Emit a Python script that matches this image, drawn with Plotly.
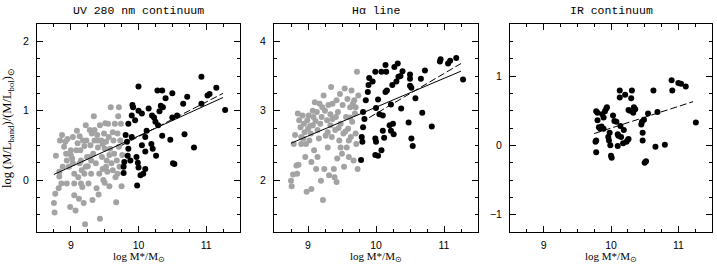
import plotly.graph_objects as go

# ---------------- data ----------------
# Panel 1: UV 280 nm continuum
uv_gray_x = [8.75, 8.76, 8.77, 8.78, 8.83, 8.82, 8.84, 8.87, 8.86, 8.90, 8.92, 8.93, 8.95, 8.94, 8.97,
             8.99, 9.00, 9.02, 9.03, 9.05, 9.05, 9.05, 9.07, 9.09, 9.10, 9.11, 9.12, 9.13, 9.14, 9.15,
             9.16, 9.17, 9.19, 9.20, 9.21, 9.22, 9.23, 9.24, 9.25, 9.26, 9.28, 9.29, 9.30, 9.31, 9.32,
             9.33, 9.34, 9.35, 9.37, 9.38, 9.39, 9.40, 9.41, 9.43, 9.43, 9.45, 9.46, 9.47, 9.48, 9.49,
             9.50, 9.50, 9.51, 9.52, 9.53, 9.54, 9.55, 9.56, 9.57, 9.58, 9.59, 9.60, 9.62, 9.63, 9.64,
             9.65, 9.66, 9.67, 9.68, 9.69, 9.70, 9.71, 9.71, 9.73, 9.74, 9.75, 9.76, 9.72, 9.62, 8.88,
             8.83, 9.03, 9.08, 9.18, 9.22, 9.28, 9.35, 9.42, 9.52, 9.57, 9.47, 9.13, 9.20, 9.30, 9.40,
             9.69, 9.15, 9.00, 8.94]
uv_gray_y = [-0.33, -0.47, -0.20, 0.35, 0.05, -0.12, 0.57, 0.65, -0.05, 0.48, 0.55, 0.38, 0.59, -0.05, 0.19,
             -0.39, 0.36, 0.31, 0.24, 0.09, -0.05, -0.22, -0.44, 0.71, 0.53, 0.04, -0.27, 0.63, 0.43, 0.28,
             0.14, -0.10, -0.33, 0.49, -0.64, 0.79, 0.57, 0.33, 0.20, -0.05, 0.72, 0.50, 0.09, 0.67, -0.29,
             0.38, 0.92, 0.57, 0.24, -0.12, 0.65, 0.47, -0.21, 0.79, -0.56, 0.57, 0.33, 0.16, 0.00, 0.67,
             0.45, -0.04, 0.82, 0.55, 0.28, 0.12, 0.81, 0.62, -0.09, 0.45, 1.05, 0.24, 0.69, 0.57, 0.38,
             0.81, 0.04, -0.32, 0.28, 0.67, 0.92, 0.48, 1.05, 0.57, 0.81, -0.09, 0.36, 0.19, 0.14, 0.19,
             0.12, 0.62, 0.43, 0.57, 0.19, 0.33, 0.72, 0.09, 0.19, 0.36, 0.52, 0.24, 0.09, 0.28, 0.57,
             0.09, -0.05, 0.43, 0.28]
uv_black_x = [10.00, 10.35, 10.28, 10.15, 9.91, 9.92, 10.00, 10.05, 9.90, 9.85, 9.95, 10.20, 10.23, 10.25,
              10.31, 10.33, 10.36, 10.40, 10.50, 10.50, 10.57, 10.66, 10.72, 10.93, 10.93, 11.02, 11.05,
              11.15, 11.28, 9.81, 9.83, 9.85, 9.84, 9.79, 9.78, 9.78, 9.88, 9.90, 9.97, 9.99, 10.00, 10.03,
              9.98, 10.07, 10.10, 10.05, 10.10, 10.12, 10.10, 10.19, 10.21, 10.26, 10.29, 10.35, 10.47,
              10.51, 10.53, 10.68, 10.82]
uv_black_y = [1.35, 1.29, 1.29, 1.03, 1.08, 1.05, 1.00, 0.96, 0.93, 0.81, 0.86, 0.93, 0.90, 0.84,
              0.99, 1.07, 1.05, 1.18, 1.25, 0.90, 0.93, 1.10, 1.20, 1.10, 1.49, 1.22, 1.24,
              1.33, 1.01, 0.65, 0.55, 0.45, 0.35, 0.26, 0.19, 0.10, 0.28, 0.62, 0.33, 0.25, 0.18, 0.07,
              -0.08, 0.09, 0.16, 0.50, 0.41, 0.71, 0.62, 0.52, 0.45, 0.35, 0.79, 0.64, 0.58,
              0.24, 0.23, 0.66, 0.47]
uv_fit_all_x = [8.75, 11.25]
uv_fit_all_y = [0.08, 1.19]
uv_fit_black_x = [9.75, 11.25]
uv_fit_black_y = [0.50, 1.25]

# Panel 2: H-alpha line
ha_gray_x = [8.75, 8.76, 8.78, 8.84, 8.83, 8.86, 8.81, 8.85, 8.87, 8.89, 8.90, 8.92, 8.94, 8.95, 8.96,
             8.98, 8.99, 9.00, 9.01, 9.02, 9.04, 9.05, 9.05, 9.07, 9.08, 9.09, 9.10, 9.12, 9.13, 9.14,
             9.16, 9.17, 9.18, 9.19, 9.20, 9.22, 9.23, 9.24, 9.25, 9.26, 9.28, 9.29, 9.30, 9.31, 9.33,
             9.34, 9.35, 9.36, 9.38, 9.39, 9.40, 9.42, 9.42, 9.43, 9.44, 9.46, 9.47, 9.48, 9.50, 9.51,
             9.52, 9.53, 9.54, 9.56, 9.57, 9.58, 9.59, 9.60, 9.62, 9.63, 9.64, 9.65, 9.67, 9.68, 9.69,
             9.70, 9.71, 9.72, 9.73, 9.74, 9.70, 8.97, 9.07, 9.36, 9.48, 9.14, 9.29, 9.41, 9.60, 8.90,
             8.79, 9.03, 9.21, 9.33, 9.55, 9.66, 8.93, 9.11, 9.45, 9.62]
ha_gray_y = [1.99, 1.91, 2.08, 2.09, 2.21, 2.22, 2.65, 2.96, 2.86, 2.76, 2.62, 2.93, 2.81, 2.69, 2.33,
             1.83, 2.86, 2.74, 2.93, 2.57, 2.67, 2.26, 1.87, 2.79, 2.91, 2.43, 3.12, 2.16, 2.98, 2.72,
             2.60, 3.10, 2.81, 1.99, 2.91, 1.71, 3.22, 2.16, 3.00, 2.64, 2.86, 2.69, 3.08, 2.07, 2.79,
             3.34, 2.62, 2.88, 2.16, 2.04, 2.72, 1.97, 3.15, 2.31, 2.98, 2.57, 3.24, 2.81, 2.38, 3.08,
             2.67, 2.19, 3.32, 2.91, 2.47, 3.17, 2.74, 2.33, 3.05, 2.62, 3.29, 2.84, 2.28, 3.15, 2.96,
             2.67, 2.52, 3.56, 2.16, 3.22, 3.05, 2.52, 3.00, 3.10, 2.47, 2.33, 2.47, 2.91, 2.57, 2.52,
             2.52, 2.78, 3.05, 2.95, 2.70, 3.10, 2.60, 2.85, 2.75, 2.90]
ha_black_x = [9.78, 9.80, 9.79, 9.81, 9.83, 9.81, 9.85, 9.88, 9.89, 9.90, 9.95, 9.99, 10.03, 10.00,
              9.99, 10.00, 9.99, 10.03, 10.08, 10.05, 10.10, 10.10, 10.12, 10.08, 10.14, 10.14, 10.16,
              10.15, 10.22, 10.24, 10.25, 10.20, 10.22, 10.26, 10.27, 10.32, 10.30, 10.33, 10.36, 10.39,
              10.37, 10.48, 10.50, 10.50, 10.50, 10.52, 10.52, 10.54, 10.58, 10.72, 10.68, 10.66, 10.82,
              10.94, 10.95, 11.06, 11.09, 11.18, 11.28]
ha_black_y = [2.29, 2.55, 2.62, 2.76, 2.88, 2.98, 3.15, 3.27, 3.37, 3.47, 3.42, 3.56, 3.16, 3.04,
              2.60, 2.55, 2.36, 2.35, 2.43, 2.95, 2.93, 2.71, 2.61, 3.56, 3.66, 3.27, 3.29,
              3.56, 3.09, 3.37, 2.81, 2.79, 2.71, 2.66, 3.63, 3.68, 3.42, 3.49, 3.50, 3.57,
              3.03, 2.83, 3.52, 3.46, 3.36, 3.33, 2.60, 2.49, 3.18, 3.58, 2.97, 3.46, 2.77,
              3.71, 3.74, 3.68, 3.72, 3.76, 3.45]
ha_fit_all_x = [8.75, 11.25]
ha_fit_all_y = [2.53, 3.57]
ha_fit_black_x = [9.90, 11.25]
ha_fit_black_y = [2.90, 3.68]

# Panel 3: IR continuum
ir_black_x = [9.77, 9.78, 9.78, 9.78, 9.80, 9.80, 9.82, 9.84, 9.86, 9.87, 9.89, 9.89, 9.91, 9.93,
              9.94, 9.96, 9.97, 9.99, 9.98, 10.00, 10.01, 10.03, 10.05, 10.08, 10.10, 10.11, 10.10,
              10.13, 10.13, 10.14, 10.15, 10.18, 10.19, 10.21, 10.23, 10.25, 10.26, 10.28, 10.30, 10.31,
              10.33, 10.34, 10.36, 10.26, 10.45, 10.46, 10.47, 10.47, 10.49, 10.50, 10.52, 10.55, 10.63,
              10.66, 10.69, 10.80, 10.90, 10.91, 11.00, 11.04, 11.11, 11.26]
ir_black_y = [0.05, -0.10, 0.07, 0.49, 0.47, 0.36, 0.26, 0.24, 0.27, 0.45, 0.40, 0.24, 0.49, 0.53,
              0.55, 0.12, 0.07, 0.00, 0.18, -0.15, -0.18, 0.43, 0.35, 0.34, 0.16, 0.14, -0.01,
              0.69, 0.79, 0.28, 0.12, 0.03, 0.22, 0.73, 0.05, 0.08, 0.51, 0.50, 0.68, 0.79,
              0.47, 0.55, 0.52, 0.09, 0.30, 0.34, 0.18, 0.07, 0.37, -0.25, -0.23, 0.46, 0.79,
              -0.02, 0.48, 0.01, 0.94, 0.79, 0.90, 0.89, 0.85, 0.33]
ir_fit_black_x = [9.75, 11.22]
ir_fit_black_y = [0.17, 0.63]

titles = ["UV 280 nm continuum", "H\u03b1 line", "IR continuum"]
xlabel = "log M*/M<sub>\u2299</sub>"
ylabel = "log (M/L<sub>band</sub>)/(M/L<sub>bol</sub>)<sub>\u2299</sub>"
x_range = [8.5, 11.5]
y_ranges = [[-0.75, 2.25], [1.25, 4.25], [-1.25, 1.75]]
x_ticks = [9, 10, 11]
y_ticks = [[0, 1, 2], [2, 3, 4], [-1, 0, 1]]

# ---------------- figure ----------------
W, H = 717, 264
ml, mr, mt, mb = 37, 5, 24, 32
pw = W - ml - mr
ph = H - mt - mb
panels_px = [(37, 240), (274, 478), (510, 712)]
domains = [[(a - ml) / pw, (b - ml) / pw] for a, b in panels_px]

GRAY = "#a3a3a3"
fig = go.Figure()

def pts(x, y, color, i):
    sfx = "" if i == 0 else str(i + 1)
    fig.add_trace(go.Scatter(x=x, y=y, mode="markers", xaxis="x" + sfx, yaxis="y" + sfx,
                             marker=dict(size=6, color=color, line=dict(width=0)),
                             showlegend=False, hoverinfo="skip"))

def line(x, y, dash, i):
    sfx = "" if i == 0 else str(i + 1)
    fig.add_trace(go.Scatter(x=x, y=y, mode="lines", xaxis="x" + sfx, yaxis="y" + sfx,
                             line=dict(color="black", width=1, dash=dash),
                             showlegend=False, hoverinfo="skip"))

pts(uv_gray_x, uv_gray_y, GRAY, 0)
pts(uv_black_x, uv_black_y, "black", 0)
line(uv_fit_all_x, uv_fit_all_y, "solid", 0)
line(uv_fit_black_x, uv_fit_black_y, "7px,3px", 0)

pts(ha_gray_x, ha_gray_y, GRAY, 1)
pts(ha_black_x, ha_black_y, "black", 1)
line(ha_fit_all_x, ha_fit_all_y, "solid", 1)
line(ha_fit_black_x, ha_fit_black_y, "7px,3px", 1)

pts(ir_black_x, ir_black_y, "black", 2)
line(ir_fit_black_x, ir_fit_black_y, "7px,3px", 2)

tickfont = dict(family="Liberation Sans", size=10.5, color="black")
layout = dict(width=W, height=H, margin=dict(l=ml, r=mr, t=mt, b=mb),
              paper_bgcolor="white", plot_bgcolor="white", showlegend=False)

annotations = []
for i in range(3):
    sfx = "" if i == 0 else str(i + 1)
    common = dict(showline=True, linecolor="black", linewidth=1, mirror="allticks",
                  ticks="inside", ticklen=6, tickwidth=1, tickcolor="black",
                  showgrid=False, zeroline=False, tickfont=tickfont,
                  minor=dict(ticks="inside", ticklen=3, tickwidth=1, tickcolor="black",
                             dtick=0.25, showgrid=False))
    layout["xaxis" + sfx] = dict(common, domain=domains[i], range=x_range, tickvals=x_ticks,
                                 anchor="y" + sfx, ticklabelstandoff=3)
    layout["yaxis" + sfx] = dict(common, domain=[0, 1], range=y_ranges[i], tickvals=y_ticks[i],
                                 anchor="x" + sfx, ticklabelstandoff=5)
    cx = (domains[i][0] + domains[i][1]) / 2
    annotations.append(dict(text=titles[i], x=cx, y=1, xref="paper", yref="paper",
                            yshift=14, xanchor="center", yanchor="middle", showarrow=False,
                            font=dict(family="Liberation Mono", size=11.5, color="black")))
    annotations.append(dict(text=xlabel, x=cx, y=0, xref="paper", yref="paper",
                            yshift=-17, xanchor="center", yanchor="top", showarrow=False,
                            borderpad=0,
                            font=dict(family="Liberation Serif", size=11, color="black")))

annotations.append(dict(text=ylabel, x=0, y=0.5, xref="paper", yref="paper", xshift=-29,
                        textangle=-90, xanchor="center", yanchor="middle", showarrow=False,
                        font=dict(family="Liberation Serif", size=12.5, color="black")))
layout["annotations"] = annotations
fig.update_layout(**layout)
fig.write_html("out.html")
